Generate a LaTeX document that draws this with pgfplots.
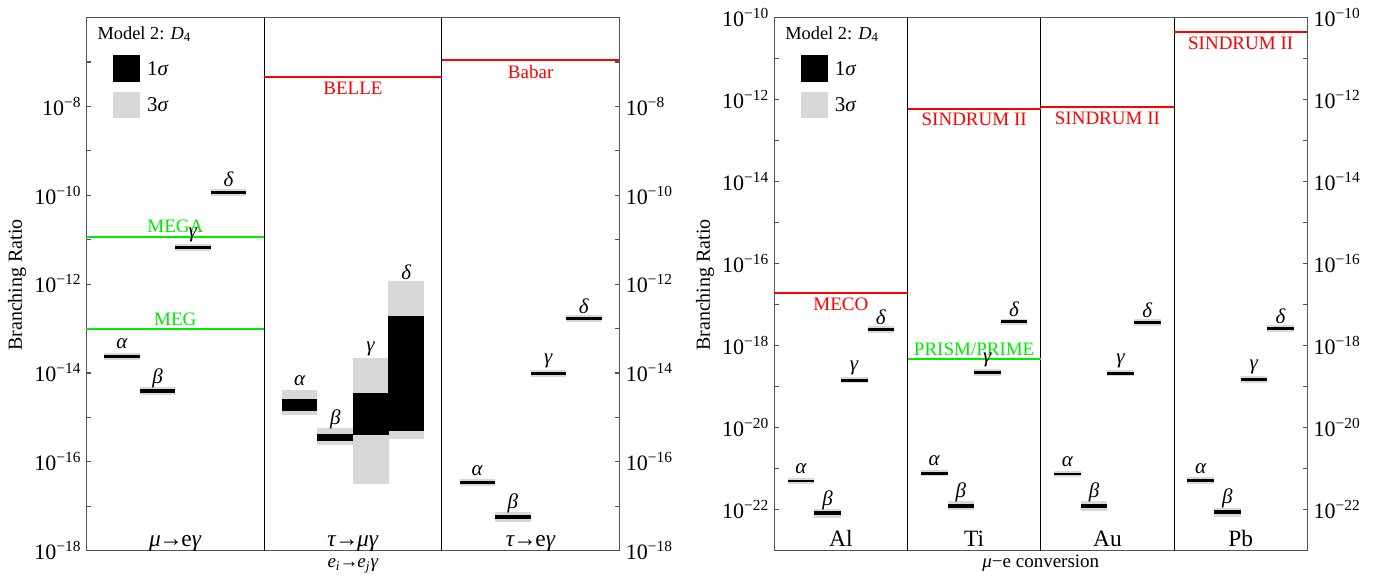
\documentclass[border=0pt]{standalone}
\usepackage{pgfplots}
\usepackage{pgfplotstable}
\pgfplotsset{compat=1.18}
\usepackage{fontspec}
\setmainfont{Liberation Serif}
\definecolor{sigthree}{RGB}{216,216,216}
\definecolor{limred}{RGB}{255,0,0}
\definecolor{limgreen}{RGB}{0,235,0}
\definecolor{framegray}{RGB}{85,85,85}

% values are log10(branching ratio): x position, 3 sigma range, 1 sigma range, label
\pgfplotstableread{
x   lo3     hi3     lo1     hi1     g
0.2 -13.71  -13.55  -13.665 -13.595 α
0.4 -14.50  -14.32  -14.45  -14.37  β
0.6 -11.25  -11.09  -11.205 -11.135 γ
0.8 -10.01  -9.85   -9.965  -9.895  δ
1.2 -14.94  -14.38  -14.85  -14.59  α
1.4 -15.61  -15.24  -15.54  -15.37  β
1.6 -16.49  -13.66  -15.40  -14.45  γ
1.8 -15.49  -11.93  -15.31  -12.72  δ
2.2 -16.55  -16.39  -16.505 -16.435 α
2.4 -17.36  -17.14  -17.295 -17.205 β
2.6 -14.10  -13.94  -14.055 -13.985 γ
2.8 -12.86  -12.70  -12.815 -12.745 δ
}\lfvdata

\pgfplotstableread{
x   lo3     hi3     lo1     hi1     g
0.2 -21.38  -21.22  -21.335 -21.265 α
0.4 -22.20  -21.98  -22.14  -22.04  β
0.6 -18.92  -18.76  -18.875 -18.805 γ
0.8 -17.68  -17.52  -17.635 -17.565 δ
1.2 -21.19  -21.03  -21.145 -21.075 α
1.4 -22.01  -21.79  -21.95  -21.85  β
1.6 -18.73  -18.57  -18.685 -18.615 γ
1.8 -17.50  -17.34  -17.455 -17.385 δ
2.2 -21.21  -21.05  -21.165 -21.095 α
2.4 -22.02  -21.80  -21.96  -21.86  β
2.6 -18.75  -18.59  -18.705 -18.635 γ
2.8 -17.51  -17.35  -17.465 -17.395 δ
3.2 -21.37  -21.21  -21.325 -21.255 α
3.4 -22.17  -21.95  -22.11  -22.01  β
3.6 -18.90  -18.74  -18.855 -18.785 γ
3.8 -17.66  -17.50  -17.615 -17.545 δ
}\mucdata

\tikzset{
  glab/.style={anchor=center, yshift=4.5pt, inner sep=0pt, font=\fontsize{10.5}{12}\selectfont},
  limlab/.style={inner sep=0pt, font=\fontsize{9.5}{11}\selectfont},
  catlab/.style={anchor=base, inner sep=0pt, yshift=2.1pt, font=\fontsize{11.7}{13}\selectfont},
}
\newcommand\arr{\kern-0.06em→\kern-0.06em}
\pgfplotsset{
  base/.style={
    scale only axis, width=266.5pt, height=266.6pt, anchor=south west,
    xmin=0, xtick=\empty,
    tick align=inside,
    major tick length=2.4pt, minor tick length=2.4pt,
    axis line style={framegray, line width=0.6pt},
    tick style={framegray, line width=0.6pt},
    yticklabel={\pgfmathtruncatemacro\myexp{round(abs(\tick))}10\textsuperscript{−\myexp}},
    clip=false,
  },
  leftlab/.style={yticklabel style={anchor=base east, inner sep=0pt, xshift=-2.3pt, yshift=-4.4pt, font=\fontsize{11}{13}\selectfont}},
  rightlab/.style={yticklabel pos=right, yticklabel style={anchor=base west, inner sep=0pt, xshift=3pt, yshift=-4.4pt, font=\fontsize{11}{13}\selectfont}},
}

\newcommand\sigmabars[2]{%
  \addplot[draw=none, mark=none, forget plot, error bars/.cd, y dir=plus, y explicit, error mark=none,
    error bar style={draw=sigthree, line width=#2}]
    table[x=x, y=lo3, y error expr={\thisrow{hi3}-\thisrow{lo3}}] {#1};
  \addplot[draw=none, mark=none, forget plot, error bars/.cd, y dir=plus, y explicit, error mark=none,
    error bar style={draw=black, line width=#2}]
    table[x=x, y=lo1, y error expr={\thisrow{hi1}-\thisrow{lo1}}] {#1};
  \addplot[draw=none, mark=none, forget plot, nodes near coords={\textit{\pgfplotspointmeta}},
    point meta=explicit symbolic, every node near coord/.append style={glab}]
    table[x=x, y=hi3, meta=g] {#1};
}

\newcommand\legendbox[1]{%
  \node[anchor=base west, inner sep=0pt, font=\fontsize{9.2}{11}\selectfont] at (#1+5.3pt,267.8pt) {Model 2: \textit{D}\textsubscript{4}};
  \fill[black] (#1+13.4pt,260pt) rectangle (#1+26.75pt,246.65pt);
  \fill[sigthree] (#1+13.4pt,241.65pt) rectangle (#1+26.75pt,228.35pt);
  \node[anchor=base west, inner sep=0pt, font=\fontsize{10.5}{12}\selectfont] at (#1+30.1pt,250pt) {1\textit{σ}};
  \node[anchor=base west, inner sep=0pt, font=\fontsize{10.5}{12}\selectfont] at (#1+30.1pt,231.7pt) {3\textit{σ}};
}

\begin{document}
\begin{tikzpicture}
\useasboundingbox (0,0) rectangle (688.5pt,287.5pt);

% ---------------- left panel: e_i -> e_j gamma ----------------
\begin{axis}[base, leftlab, at={(43.25pt,12.15pt)}, xmax=3,
  ymin=-18, ymax=-6, ytick={-18,-16,...,-8}, minor ytick={-17,-15,...,-7}]
  \sigmabars{\lfvdata}{17.8pt}
  \addplot[black, line width=0.5pt, forget plot] coordinates {(1,-18) (1,-6)};
  \addplot[black, line width=0.5pt, forget plot] coordinates {(2,-18) (2,-6)};
  \addplot[limgreen, line width=1pt] coordinates {(0,-10.93) (1,-10.93)};
  \addplot[limgreen, line width=1pt] coordinates {(0,-13.01) (1,-13.01)};
  \addplot[limred, line width=1pt] coordinates {(1,-7.35) (2,-7.35)};
  \addplot[limred, line width=1pt] coordinates {(2,-6.96) (3,-6.96)};
  \node[limlab, limgreen, anchor=base, yshift=1.8pt] at (axis cs:0.5,-10.93) {MEGA};
  \node[limlab, limgreen, anchor=base, yshift=1.8pt] at (axis cs:0.5,-13.01) {MEG};
  \node[limlab, limred, anchor=north, yshift=-2.2pt] at (axis cs:1.5,-7.35) {BELLE};
  \node[limlab, limred, anchor=north, yshift=-2.2pt] at (axis cs:2.5,-6.96) {Babar};
  \node[catlab] at (axis cs:0.5,-18) {\textit{μ}\arr e\textit{γ}};
  \node[catlab] at (axis cs:1.5,-18) {\textit{τ}\arr\textit{μγ}};
  \node[catlab] at (axis cs:2.5,-18) {\textit{τ}\arr e\textit{γ}};
\end{axis}
\begin{axis}[base, rightlab, at={(43.25pt,12.15pt)}, xmax=3,
  ymin=-18, ymax=-6, ytick={-18,-16,...,-8}, minor ytick={-17,-15,...,-7},
  hide x axis, y axis line style={draw=none}, major tick length=0pt, minor tick length=0pt]
  \addplot[draw=none, mark=none, forget plot] coordinates {(0.5,-10)};
\end{axis}
\legendbox{43.25pt}
\node[rotate=90, font=\fontsize{10}{12}\selectfont] at (8.5pt,145pt) {Branching Ratio};
\node[anchor=base, inner sep=0pt, font=\fontsize{9.5}{11}\selectfont] at (176.5pt,3.6pt)
  {\textit{e}\textsubscript{\textit{i}}\arr\textit{e}\textsubscript{\textit{j}}\textit{γ}};

% ---------------- right panel: mu-e conversion ----------------
\begin{axis}[base, leftlab, at={(387.15pt,12.15pt)}, xmax=4,
  ymin=-23, ymax=-10, ytick={-22,-20,...,-10}, minor ytick={-23,-21,...,-11}]
  \sigmabars{\mucdata}{13.33pt}
  \addplot[black, line width=0.5pt, forget plot] coordinates {(1,-23) (1,-10)};
  \addplot[black, line width=0.5pt, forget plot] coordinates {(2,-23) (2,-10)};
  \addplot[black, line width=0.5pt, forget plot] coordinates {(3,-23) (3,-10)};
  \addplot[limred, line width=1pt] coordinates {(0,-16.71) (1,-16.71)};
  \addplot[limred, line width=1pt] coordinates {(1,-12.22) (2,-12.22)};
  \addplot[limred, line width=1pt] coordinates {(2,-12.18) (3,-12.18)};
  \addplot[limred, line width=1pt] coordinates {(3,-10.35) (4,-10.35)};
  \addplot[limgreen, line width=1pt] coordinates {(1,-18.32) (2,-18.32)};
  \node[limlab, limred, anchor=north, yshift=-2.2pt] at (axis cs:0.5,-16.71) {MECO};
  \node[limlab, limred, anchor=north, yshift=-2.2pt] at (axis cs:1.5,-12.22) {SINDRUM II};
  \node[limlab, limred, anchor=north, yshift=-2.2pt] at (axis cs:2.5,-12.18) {SINDRUM II};
  \node[limlab, limred, anchor=north, yshift=-2.2pt] at (axis cs:3.5,-10.35) {SINDRUM II};
  \node[limlab, limgreen, anchor=base, yshift=1.8pt] at (axis cs:1.5,-18.32) {PRISM/PRIME};
  \node[catlab] at (axis cs:0.5,-23) {Al};
  \node[catlab] at (axis cs:1.5,-23) {Ti};
  \node[catlab] at (axis cs:2.5,-23) {Au};
  \node[catlab] at (axis cs:3.5,-23) {Pb};
\end{axis}
\begin{axis}[base, rightlab, at={(387.15pt,12.15pt)}, xmax=4,
  ymin=-23, ymax=-10, ytick={-22,-20,...,-10}, minor ytick={-23,-21,...,-11},
  hide x axis, y axis line style={draw=none}, major tick length=0pt, minor tick length=0pt]
  \addplot[draw=none, mark=none, forget plot] coordinates {(0.5,-15)};
\end{axis}
\legendbox{387.15pt}
\node[rotate=90, font=\fontsize{10}{12}\selectfont] at (352.5pt,145pt) {Branching Ratio};
\node[anchor=base, inner sep=0pt, font=\fontsize{9.5}{11}\selectfont] at (520.4pt,3.9pt)
  {\textit{μ}−e conversion};
\end{tikzpicture}
\end{document}
